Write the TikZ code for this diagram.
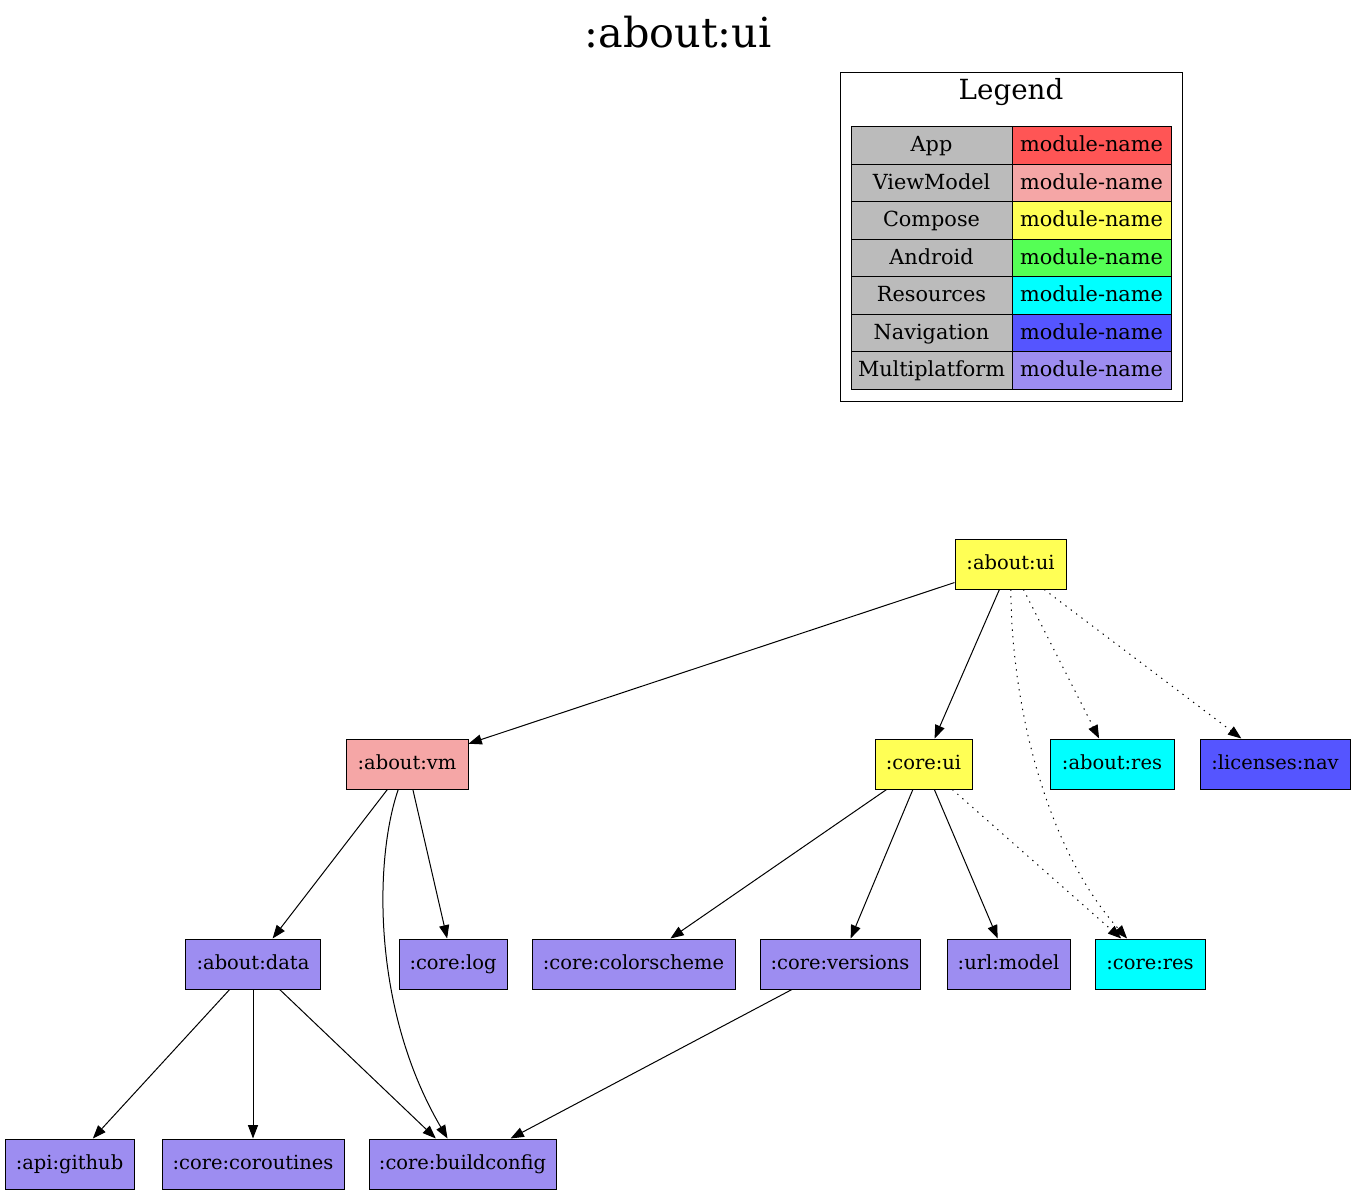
\documentclass[tikz,border=0pt]{standalone}
\usepackage{fontspec}
\setmainfont{DejaVu Serif}
\usetikzlibrary{arrows.meta}
\definecolor{appRed}{HTML}{FF5555}
\definecolor{vmPink}{HTML}{F5A6A6}
\definecolor{composeYellow}{HTML}{FFFF55}
\definecolor{androidGreen}{HTML}{55FF55}
\definecolor{resCyan}{HTML}{00FFFF}
\definecolor{navBlue}{HTML}{5555FF}
\definecolor{mppPurple}{HTML}{9D8DF1}
\definecolor{legendGray}{HTML}{BBBBBB}

\begin{document}
\begin{tikzpicture}[
    x=0.75pt, y=-0.75pt,
    module/.style={%
      draw,
      rectangle,
      line width=0.75pt,
      minimum height=37.5pt,
      inner sep=0pt,
      text height=11.6pt,
      text depth=3.2pt,
      font=\fontsize{14.6}{17}\selectfont,
    },
    cell/.style={%
      draw,
      rectangle,
      line width=0.75pt,
      minimum height=28.07pt,
      inner sep=0pt,
      text height=12.5pt,
      text depth=3.2pt,
      font=\fontsize{15.6}{18}\selectfont,
    },
    dep/.style={-{Triangle[length=10pt,width=7.5pt]}, line width=0.75pt},
    resdep/.style={dep, dash pattern=on 1pt off 4pt},
  ]

    \useasboundingbox (0,0) rectangle (1356,1194);

    % title and legend
    \node [font=\fontsize{31}{35}\selectfont] (Title) at (678,32) {:about:ui};
    \draw [line width=0.75pt] (840,73) rectangle (1182,401);
    \node [font=\fontsize{20.8}{24}\selectfont] (LegendTitle) at (1011,92) {Legend};

    \node [cell, fill=legendGray, minimum width=120.75pt] (KApp) at (931.5,145.7) {App};
    \node [cell, fill=appRed, minimum width=119.25pt] (VApp) at (1091.5,145.7) {module-name};
    \node [cell, fill=legendGray, minimum width=120.75pt] (KVm) at (931.5,183.1) {ViewModel};
    \node [cell, fill=vmPink, minimum width=119.25pt] (VVm) at (1091.5,183.1) {module-name};
    \node [cell, fill=legendGray, minimum width=120.75pt] (KCompose) at (931.5,220.6) {Compose};
    \node [cell, fill=composeYellow, minimum width=119.25pt] (VCompose) at (1091.5,220.6) {module-name};
    \node [cell, fill=legendGray, minimum width=120.75pt] (KAndroid) at (931.5,258) {Android};
    \node [cell, fill=androidGreen, minimum width=119.25pt] (VAndroid) at (1091.5,258) {module-name};
    \node [cell, fill=legendGray, minimum width=120.75pt] (KRes) at (931.5,295.4) {Resources};
    \node [cell, fill=resCyan, minimum width=119.25pt] (VRes) at (1091.5,295.4) {module-name};
    \node [cell, fill=legendGray, minimum width=120.75pt] (KNav) at (931.5,332.9) {Navigation};
    \node [cell, fill=navBlue, minimum width=119.25pt] (VNav) at (1091.5,332.9) {module-name};
    \node [cell, fill=legendGray, minimum width=120.75pt] (KMpp) at (931.5,370.3) {Multiplatform};
    \node [cell, fill=mppPurple, minimum width=119.25pt] (VMpp) at (1091.5,370.3) {module-name};

    % modules
    \node [module, fill=composeYellow, minimum width=83.25pt] (AboutUi) at (1010.5,564) {:about:ui};

    \node [module, fill=vmPink, minimum width=91.5pt] (AboutVm) at (407,764) {:about:vm};
    \node [module, fill=composeYellow, minimum width=72.75pt] (CoreUi) at (923.5,764) {:core:ui};
    \node [module, fill=resCyan, minimum width=93pt] (AboutRes) at (1112,764) {:about:res};
    \node [module, fill=navBlue, minimum width=112.5pt] (LicensesNav) at (1275,764) {:licenses:nav};

    \node [module, fill=mppPurple, minimum width=101.25pt] (AboutData) at (253,964) {:about:data};
    \node [module, fill=mppPurple, minimum width=81pt] (CoreLog) at (453,964) {:core:log};
    \node [module, fill=mppPurple, minimum width=152.25pt] (CoreColorscheme) at (633.5,964) {:core:colorscheme};
    \node [module, fill=mppPurple, minimum width=120pt] (CoreVersions) at (840,964) {:core:versions};
    \node [module, fill=mppPurple, minimum width=92.25pt] (UrlModel) at (1008.5,964) {:url:model};
    \node [module, fill=resCyan, minimum width=82.5pt] (CoreRes) at (1150,964) {:core:res};

    \node [module, fill=mppPurple, minimum width=96.75pt] (ApiGithub) at (69.5,1164) {:api:github};
    \node [module, fill=mppPurple, minimum width=136.5pt] (CoreCoroutines) at (253,1164) {:core:coroutines};
    \node [module, fill=mppPurple, minimum width=140.25pt] (CoreBuildconfig) at (462.5,1164) {:core:buildconfig};

    % dependencies
    \draw [dep] (AboutUi) -- (AboutVm);
    \draw [dep] (AboutUi) -- (CoreUi);
    \draw [resdep] (AboutUi) .. controls (1012,720) and (1052,855) .. (CoreRes);
    \draw [resdep] (AboutUi) -- (AboutRes);
    \draw [resdep] (AboutUi) -- (LicensesNav);

    \draw [dep] (AboutVm) -- (AboutData);
    \draw [dep] (AboutVm) .. controls (374,860) and (372,1010) .. (CoreBuildconfig);
    \draw [dep] (AboutVm) -- (CoreLog);

    \draw [dep] (CoreUi) -- (CoreColorscheme);
    \draw [dep] (CoreUi) -- (CoreVersions);
    \draw [dep] (CoreUi) -- (UrlModel);
    \draw [resdep] (CoreUi) -- (CoreRes);

    \draw [dep] (AboutData) -- (ApiGithub);
    \draw [dep] (AboutData) -- (CoreCoroutines);
    \draw [dep] (AboutData) -- (CoreBuildconfig);

    \draw [dep] (CoreVersions) -- (CoreBuildconfig);
\end{tikzpicture}
\end{document}
